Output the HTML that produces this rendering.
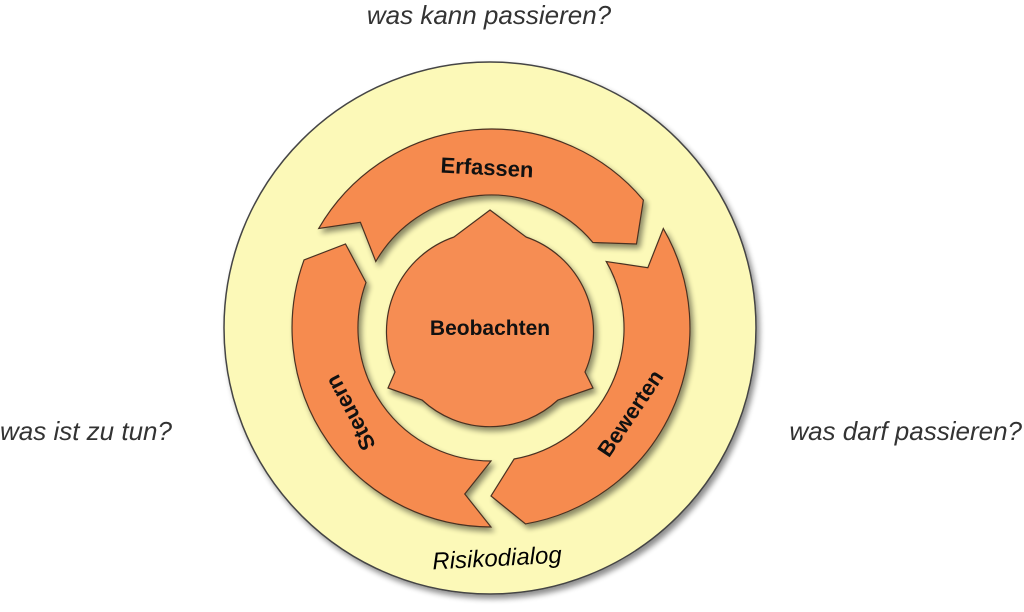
<!DOCTYPE html>
<html><head><meta charset="utf-8">
<style>
html,body{margin:0;padding:0;background:#fff;}
svg{display:block;}
</style></head>
<body>
<svg width="1024" height="612" viewBox="0 0 1024 612" xmlns="http://www.w3.org/2000/svg">
<defs>
<filter id="sh" x="-20%" y="-20%" width="150%" height="150%">
<feGaussianBlur in="SourceAlpha" stdDeviation="3"/>
<feOffset dx="3" dy="4" result="b"/>
<feComponentTransfer><feFuncA type="linear" slope="0.45"/></feComponentTransfer>
<feMerge><feMergeNode/><feMergeNode in="SourceGraphic"/></feMerge>
</filter>
</defs>
<circle cx="490" cy="328" r="266" fill="#fcf9b8" stroke="#444" stroke-width="1.5" filter="url(#sh)"/>
<g fill="#f68b4f" stroke="#4a3020" stroke-width="1.2" filter="url(#sh)">
<path d="M318.7,228.5 A199,199 0 0 1 643.4,200.1 L636.5,244 L592.9,242.5 A133,133 0 0 0 375.8,261.5 L360.4,222.3 Z"/>
<path d="M318.7,228.5 A199,199 0 0 1 643.4,200.1 L636.5,244 L592.9,242.5 A133,133 0 0 0 375.8,261.5 L360.4,222.3 Z" transform="rotate(120 491 328)"/>
<path d="M318.7,228.5 A199,199 0 0 1 643.4,200.1 L636.5,244 L592.9,242.5 A133,133 0 0 0 375.8,261.5 L360.4,222.3 Z" transform="rotate(240 491 328)"/>
</g>
<g fill="#f68d52" stroke="#4a3020" stroke-width="1.2" filter="url(#sh)">
<path d="M490,210 L526,237
 A100,100 0 0 1 585,372 L593,388 L558,400
 A100,100 0 0 1 422,400 L388,388 L395,372
 A100,100 0 0 1 454,237 Z"/>
</g>
<g font-family="Liberation Sans, Arial, sans-serif" fill="#111" font-weight="bold">
<text x="490" y="335" font-size="21" text-anchor="middle">Beobachten</text>
<text x="487" y="175" font-size="22" text-anchor="middle" transform="rotate(3 487 168)">Erfassen</text>
<text x="630" y="421" font-size="22" text-anchor="middle" transform="rotate(-56 630 413)">Bewerten</text>
<text x="350" y="421" font-size="22" text-anchor="middle" transform="rotate(-118 350 413)">Steuern</text>
</g>
<g font-family="Liberation Sans, Arial, sans-serif" font-style="italic" fill="#000">
<text x="497" y="566" font-size="24" text-anchor="middle" transform="rotate(-3 497 558)">Risikodialog</text>
</g>
<g font-family="Liberation Sans, Arial, sans-serif" font-style="italic" fill="#333" font-size="26">
<text x="489" y="24" text-anchor="middle">was kann passieren?</text>
<text x="0" y="440">was ist zu tun?</text>
<text x="1022" y="440" text-anchor="end">was darf passieren?</text>
</g>
</svg>
</body></html>
